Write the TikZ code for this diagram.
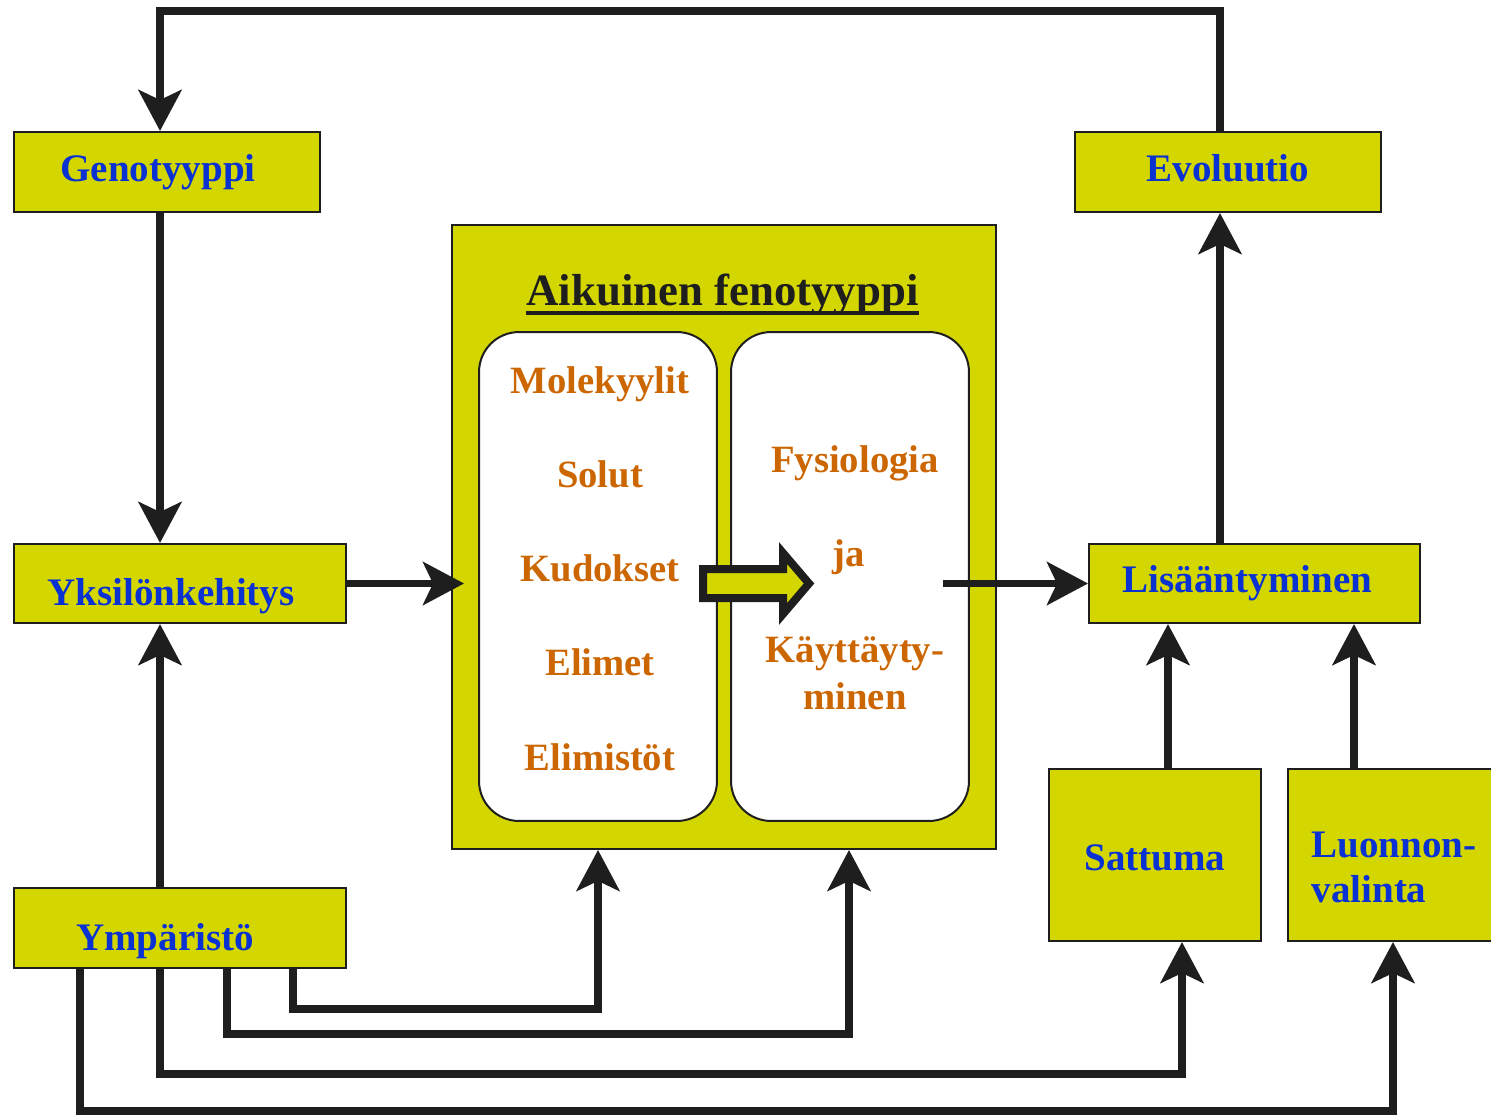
\documentclass[tikz,border=0pt]{standalone}
\usepackage{fontspec}
\setmainfont{Liberation Serif}
\usetikzlibrary{arrows.meta}
\definecolor{cbox}{RGB}{212,214,0}
\definecolor{cblue}{RGB}{10,50,210}
\definecolor{corg}{RGB}{204,102,0}
\definecolor{cline}{RGB}{30,30,30}
\newcommand\blueft{\fontsize{22.2}{25.8}\selectfont\bfseries}
\newcommand\orgft{\fontsize{22}{27}\selectfont\bfseries}
\newcommand\thickul[1]{\setbox0=\hbox{#1}\rlap{\rule[-5.6pt]{\wd0}{2.3pt}}\box0}

\begin{document}
\begin{tikzpicture}[
  x=0.02cm,y=-0.02cm,
  box/.style={draw=cline,line width=0.04cm,fill=cbox,inner sep=0pt,font=\blueft,text=cblue},
  base/.style={text height=#1,text depth=0pt},
  lshift/.style={execute at begin node={\kern#1}},
  panel/.style={draw=cline,line width=0.04cm,fill=white,rounded corners=0.8cm,minimum width=4.76cm,minimum height=9.78cm},
  item/.style={font=\orgft,text=corg,anchor=base},
  conn/.style={draw=cline,line width=0.15cm},
  arr/.style={conn,-{Stealth[length=0.82cm,width=0.86cm,inset=0.2cm]}}
]
\useasboundingbox (0,0) rectangle (1491,1115);

% ---- boxes ----
\node[box,base=0.4cm,lshift=-0.36cm,minimum width=6.12cm,minimum height=1.6cm] (geno) at (167,172) {Genotyyppi};
\node[box,base=0.4cm,minimum width=6.12cm,minimum height=1.6cm] (evol) at (1228,172) {Evoluutio};
\node[box,base=0.86cm,lshift=-0.36cm,minimum width=6.64cm,minimum height=1.58cm] (yksi) at (180,583.5) {Yksilönkehitys};
\node[box,base=0.88cm,lshift=-0.6cm,minimum width=6.64cm,minimum height=1.6cm] (ymp) at (180,928) {Ympäristö};
\node[box,base=0.34cm,lshift=-0.28cm,minimum width=6.62cm,minimum height=1.58cm] (lisa) at (1254.5,583.5) {Lisääntyminen};
\node[box,base=0.6cm,minimum width=4.24cm,minimum height=3.44cm] (satt) at (1155,855) {Sattuma};
\node[box,base=1.92cm,minimum width=4.24cm,minimum height=3.44cm,align=left] (luon) at (1394,855) {Luonnon-\\valinta};

% ---- adult phenotype ----
\node[box,minimum width=10.88cm,minimum height=12.48cm] (feno) at (724,537) {};
\node[font=\fontsize{25.5}{28}\selectfont\bfseries,text=cline,anchor=base] (title) at (722.5,305) {\thickul{Aikuinen fenotyyppi}};
\node[panel] (lpan) at (598,576.5) {};
\node[panel] (rpan) at (850,576.5) {};
\filldraw[fill=cbox,draw=cline,line width=0.16cm,line join=miter]
  (703,569) -- (783,569) -- (783,553) -- (809,583.5) -- (783,614) -- (783,598) -- (703,598) -- cycle;

\foreach \t [count=\i from 0] in {Molekyylit,Solut,Kudokset,Elimet,Elimistöt}
  {\node[item] (org-\i) at (600,{393+94.3*\i}) {\t};}
\node[item] (fysio) at (855,472) {Fysiologia};
\node[item] (ja) at (849,566) {ja};
\node[item,anchor=center,align=center] (kayt) at (855,673) {Käyttäyty-\\minen};

% ---- connectors ----
\coordinate (out) at (943,583.5);
\draw[arr] (evol.north -| 1220,0) -- ++(0,-120) -| (geno.north -| 160,0);
\draw[arr] (geno.south -| 160,0) -- (yksi.north -| 160,0);
\draw[arr] (ymp.north -| 160,0) -- (yksi.south -| 160,0);
\draw[arr,shorten >=-0.26cm] (yksi.east) -- (yksi.east -| feno.west);
\draw[arr] (out) -- (out -| lisa.west);
\draw[arr] (lisa.north -| 1220,0) -- (evol.south -| 1220,0);
\draw[arr] (satt.north -| 1168,0) -- (lisa.south -| 1168,0);
\draw[arr] (luon.north -| 1354,0) -- (lisa.south -| 1354,0);

\draw[arr] (ymp.south -| 293,0) -- ++(0,40) -| (feno.south -| 598,0);
\draw[arr] (ymp.south -| 227,0) -- ++(0,65) -| (feno.south -| 849,0);
\draw[arr] (ymp.south -| 160,0) -- ++(0,105) -| (satt.south -| 1182,0);
\draw[arr] (ymp.south -| 80,0) -- ++(0,142) -| (luon.south -| 1393,0);
\end{tikzpicture}
\end{document}
